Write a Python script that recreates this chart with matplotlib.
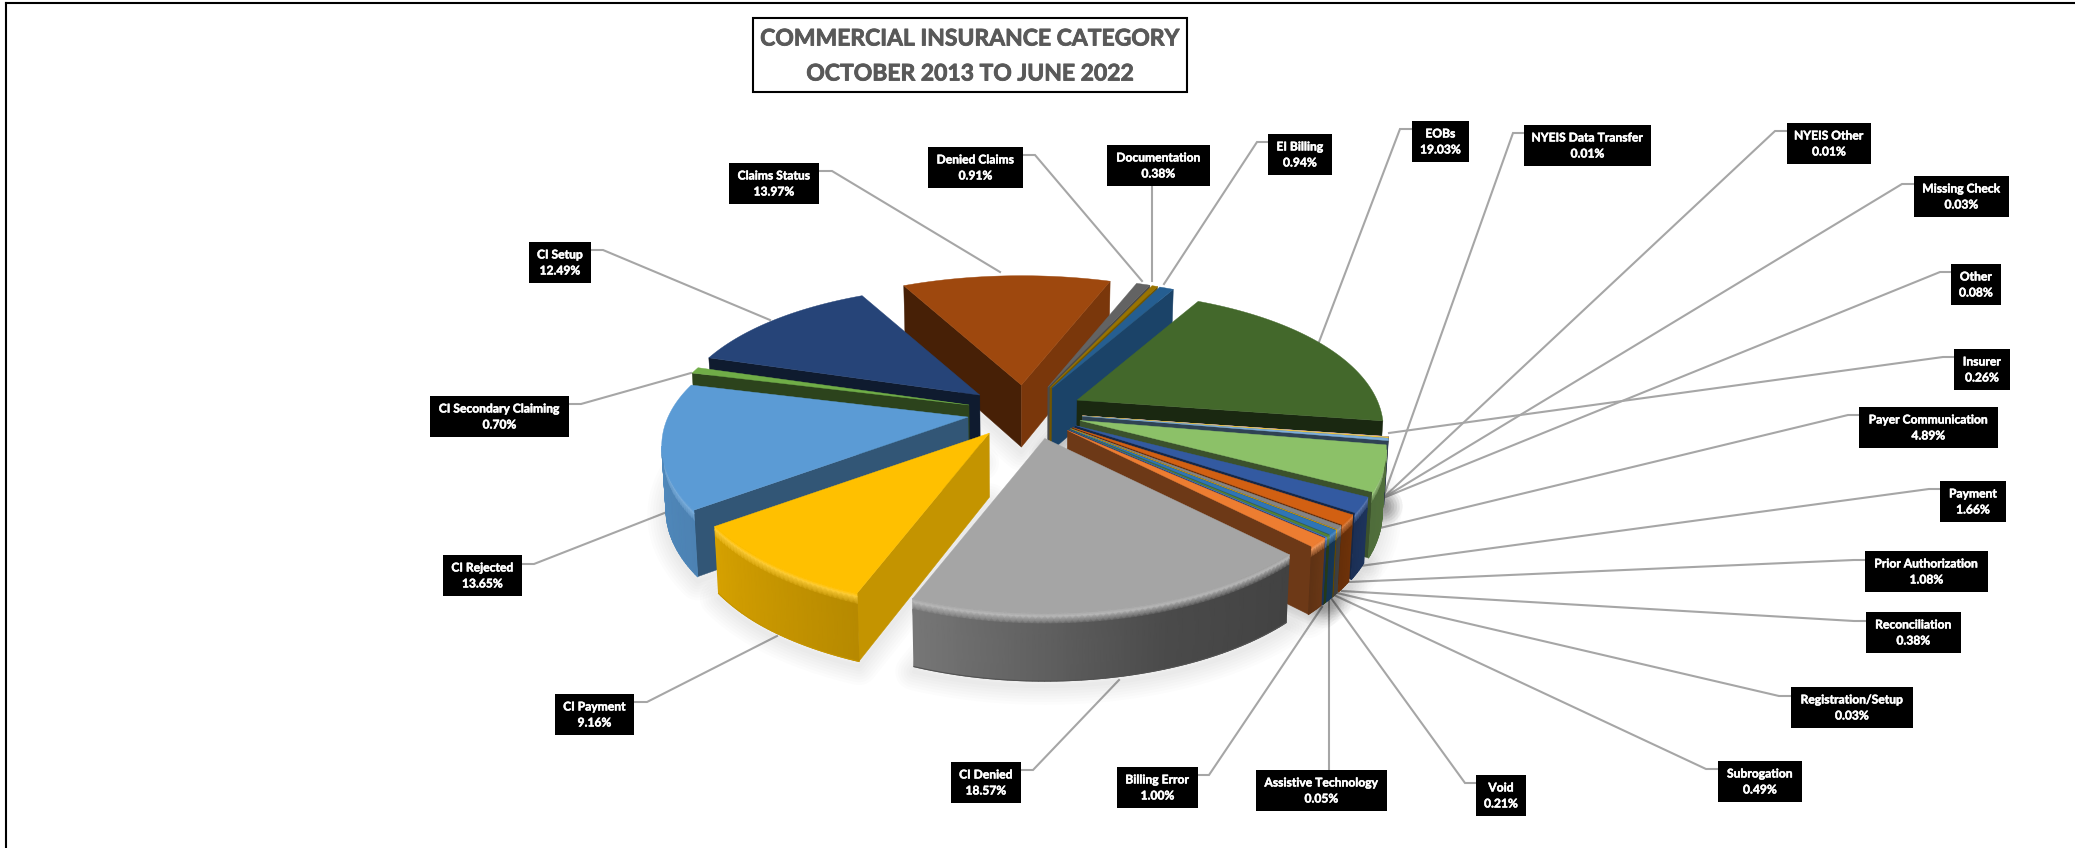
import numpy as np
import matplotlib
matplotlib.use("Agg")
import matplotlib.pyplot as plt
import matplotlib.patheffects as pe
from matplotlib.colors import to_rgb
from matplotlib.patches import Polygon, Rectangle

categories = ["Assistive Technology", "Billing Error", "CI Denied", "CI Payment", "CI Rejected",
              "CI Secondary Claiming", "CI Setup", "Claims Status", "Denied Claims", "Documentation",
              "EI Billing", "EOBs", "NYEIS Data Transfer", "NYEIS Other", "Missing Check", "Other",
              "Insurer", "Payer Communication", "Payment", "Prior Authorization", "Reconciliation",
              "Registration/Setup", "Subrogation", "Void"]
shares = [0.05, 1.00, 18.57, 9.16, 13.65, 0.70, 12.49, 13.97, 0.91, 0.38, 0.94, 19.03,
          0.01, 0.01, 0.03, 0.08, 0.26, 4.89, 1.66, 1.08, 0.38, 0.03, 0.49, 0.21]
colors = ["#4472C4", "#ED7D31", "#A5A5A5", "#FFC000", "#5B9BD5", "#70AD47", "#264478", "#9E480E",
          "#636363", "#997300", "#255E91", "#43682B", "#698ED0", "#F1975A", "#B7B7B7", "#FFCD33",
          "#7CAFDD", "#8CC168", "#335AA1", "#D26012", "#848484", "#CC9A00", "#2E75B6", "#548235"]

# label box (x0, y0, x1, y1) and leader path, in figure pixels
label_boxes = {
    "Assistive Technology": (1256, 770, 1387, 811), "Billing Error": (1117, 767, 1198, 808),
    "CI Denied": (951, 762, 1021, 803), "CI Payment": (555, 694, 634, 735),
    "CI Rejected": (443, 555, 522, 596), "CI Secondary Claiming": (430, 396, 569, 437),
    "CI Setup": (529, 242, 591, 283), "Claims Status": (729, 163, 819, 204),
    "Denied Claims": (928, 147, 1023, 188), "Documentation": (1107, 145, 1210, 186),
    "EI Billing": (1268, 134, 1332, 175), "EOBs": (1412, 121, 1469, 162),
    "NYEIS Data Transfer": (1524, 125, 1651, 166), "NYEIS Other": (1787, 123, 1871, 164),
    "Missing Check": (1914, 176, 2009, 217), "Other": (1951, 264, 2001, 305),
    "Insurer": (1954, 349, 2010, 390), "Payer Communication": (1859, 407, 1998, 448),
    "Payment": (1940, 481, 2006, 522), "Prior Authorization": (1865, 551, 1988, 592),
    "Reconciliation": (1866, 612, 1961, 653), "Registration/Setup": (1791, 687, 1913, 728),
    "Subrogation": (1718, 761, 1802, 802), "Void": (1476, 775, 1526, 816),
}
leaders = {
    "Assistive Technology": [(1329, 770), (1329, 600)],
    "Billing Error": [(1198, 775), (1209, 775), (1322, 607)],
    "CI Denied": [(1021, 770), (1033, 770), (1119, 680)],
    "CI Payment": [(634, 702), (647, 702), (777, 636)],
    "CI Rejected": [(522, 564), (534, 564), (667, 512)],
    "CI Secondary Claiming": [(569, 404), (581, 404), (691, 373)],
    "CI Setup": [(591, 250), (603, 250), (770, 320)],
    "Claims Status": [(819, 171), (832, 171), (1000, 272)],
    "Denied Claims": [(1023, 155), (1035, 155), (1142, 281)],
    "Documentation": [(1152, 186), (1152, 281)],
    "EI Billing": [(1268, 142), (1257, 142), (1164, 284)],
    "EOBs": [(1412, 129), (1400, 129), (1319, 342)],
    "NYEIS Data Transfer": [(1524, 133), (1513, 133), (1383, 498)],
    "NYEIS Other": [(1787, 131), (1775, 131), (1383, 498)],
    "Missing Check": [(1914, 184), (1902, 184), (1383, 498)],
    "Other": [(1951, 272), (1940, 272), (1383, 498)],
    "Insurer": [(1954, 357), (1943, 357), (1389, 433)],
    "Payer Communication": [(1859, 415), (1848, 415), (1380, 528)],
    "Payment": [(1940, 489), (1929, 489), (1360, 566)],
    "Prior Authorization": [(1865, 560), (1854, 560), (1349, 582)],
    "Reconciliation": [(1866, 621), (1854, 621), (1342, 591)],
    "Registration/Setup": [(1791, 696), (1779, 696), (1337, 593)],
    "Subrogation": [(1718, 769), (1706, 769), (1334, 595)],
    "Void": [(1476, 783), (1465, 783), (1331, 598)],
}
title_lines = ["COMMERCIAL INSURANCE CATEGORY", "OCTOBER 2013 TO JUNE 2022"]

# pie projection parameters
CX, CY = 1025.0, 412.0
EXPLODE_X, EXPLODE_Y = 58.0, 27.0
RX, RY = 300.0, 142.0
PERSP_X, PERSP_Y = 0.21, 0.23
START_DEG = 41.0
BEVEL = 11.0
EXTRA_SHIFT_X = {"CI Denied": 8.0}   # the largest front slice sits a little further right

plt.rcParams["font.family"] = ["Lato", "DejaVu Sans"]
W, H = 2075, 848
fig = plt.figure(figsize=(W / 100, H / 100), dpi=100, facecolor="white")
ax = fig.add_axes([0, 0, 1, 1])
ax.set_xlim(0, W)
ax.set_ylim(H, 0)
ax.axis("off")

shift_by_mid = {}


def apex_point(mid):
    return (CX + EXPLODE_X * np.cos(np.radians(mid)) + shift_by_mid.get(mid, 0.0),
            CY + EXPLODE_Y * np.sin(np.radians(mid)))


def rim_point(theta, mid):
    """Top-surface rim position at angle theta for a slice exploded along mid."""
    x, y = np.cos(np.radians(theta)), np.sin(np.radians(theta))
    ax0, ay0 = apex_point(mid)
    return ax0 + RX * x * (1 + PERSP_X * y), ay0 + RY * y * (1 + PERSP_Y * y)


def drop(px, py, amount=None):
    """Shift a top-surface point down the slice wall."""
    y_norm = (py - CY) / RY
    depth = 63.0 + 5.0 * np.clip(y_norm, -1, 1)
    d = depth if amount is None else min(amount, depth)
    return px - 0.012 * (px - CX) * d / depth, py + d


def wall_factor(theta):
    t = theta % 360
    return np.interp(t, [0, 30, 45, 70, 110, 145, 195, 360],
                     [0.60, 0.56, 0.40, 0.45, 0.71, 0.84, 0.93, 0.60])


def face_factor(normal):
    n = normal % 360
    return np.interp(n, [0, 20, 55, 100, 135, 151, 180, 360],
                     [0.8, 0.78, 0.55, 0.38, 0.46, 0.45, 0.45, 0.8])


total = sum(shares)
edges = START_DEG + np.concatenate([[0], np.cumsum(shares)]) * 360.0 / total
slices = []
for i, (name, col) in enumerate(zip(categories, colors)):
    mid = (edges[i] + edges[i + 1]) / 2
    shift_by_mid[mid] = EXTRA_SHIFT_X.get(name, 0.0)
    slices.append(dict(name=name, color=to_rgb(col), t1=edges[i], t2=edges[i + 1], mid=mid))

# leader lines sit beneath everything else
for name, pts in leaders.items():
    xs, ys = zip(*pts)
    ax.plot(xs, ys, color="#A6A6A6", lw=1.5, solid_joinstyle="miter", zorder=1)

# back-to-front painting order
order = sorted(slices, key=lambda s: np.sin(np.radians(s["mid"])))

# soft ground shadow under the slices
for s in order:
    th = np.linspace(s["t1"], s["t2"], max(3, int(s["t2"] - s["t1"]) + 2))
    rim = [drop(*rim_point(t, s["mid"])) for t in th]
    ap = apex_point(s["mid"])
    poly = [drop(*ap)] + rim
    poly = [(x, y + 5) for x, y in poly]
    for w in range(3, 30, 4):
        ax.add_patch(Polygon(poly, closed=True, facecolor="none", edgecolor=(0, 0, 0, 0.011),
                             lw=w, joinstyle="round", zorder=2))

for rank, s in enumerate(order):
    z = 10 + rank
    top = np.array(s["color"])
    t1, t2, mid = s["t1"], s["t2"], s["mid"]
    ap = apex_point(mid)
    r1, r2 = rim_point(t1, mid), rim_point(t2, mid)

    # radial cut faces, only where they face the viewer
    if r1[0] < ap[0]:
        c = tuple(top * face_factor(t1 - 90))
        ax.add_patch(Polygon([ap, r1, drop(*r1), drop(*ap)], closed=True,
                             facecolor=c, edgecolor=c, lw=0.3, zorder=z))
    if ap[0] < r2[0]:
        c = tuple(top * face_factor(t2 + 90))
        ax.add_patch(Polygon([ap, r2, drop(*r2), drop(*ap)], closed=True,
                             facecolor=c, edgecolor=c, lw=0.3, zorder=z))

    # outer wall as a smooth mesh with a bevelled top edge
    th = np.linspace(t1, t2, max(3, int(t2 - t1) + 3))
    keep = [t for t in th if rim_point(t + 0.01, mid)[0] < rim_point(t, mid)[0]]
    if len(keep) >= 2:
        levels = [0.0, 0.3 * BEVEL, BEVEL, None]
        highlight = top + (1 - top) * 0.22
        mx = np.zeros((len(levels), len(keep)))
        my = np.zeros_like(mx)
        rgb = np.zeros(mx.shape + (3,))
        for j, t in enumerate(keep):
            p = rim_point(t, mid)
            wall = top * wall_factor(t)
            shades = [top, highlight, wall, wall]
            for k, d in enumerate(levels):
                mx[k, j], my[k, j] = drop(*p, d)
                rgb[k, j] = shades[k]
        ax.pcolormesh(mx, my, rgb, shading="gouraud", zorder=z, rasterized=True)
        # antialiased lower edge of the wall
        ax.plot(mx[-1], my[-1], color=tuple(rgb[-1, len(keep) // 2]), lw=0.8, zorder=z)

    # top surface
    th = np.linspace(t1, t2, max(2, int(t2 - t1) + 2))
    outline = [ap] + [rim_point(t, mid) for t in th]
    c = tuple(top)
    ax.add_patch(Polygon(outline, closed=True, facecolor=c, edgecolor=c, lw=0.3, zorder=z))

# value labels in black boxes
label_fx = [pe.withStroke(linewidth=0.35, foreground="white")]
for name, value in zip(categories, shares):
    x0, y0, x1, y1 = label_boxes[name]
    ax.add_patch(Rectangle((x0, y0), x1 - x0, y1 - y0, facecolor="black", edgecolor="none", zorder=60))
    cx = (x0 + x1) / 2
    ax.text(cx, y0 + 13, name, color="white", fontsize=8.7, fontweight="bold",
            ha="center", va="center", zorder=61, path_effects=label_fx)
    ax.text(cx, y0 + 29, f"{value:.2f}%", color="white", fontsize=8.7, fontweight="bold",
            ha="center", va="center", zorder=61, path_effects=label_fx)

# title box
title_fx = [pe.withStroke(linewidth=0.6, foreground="#595959")]
ax.add_patch(Rectangle((753, 18), 434, 74, facecolor="white", edgecolor="black", lw=1.5, zorder=60))
ax.text(970, 39, title_lines[0], color="#595959", fontsize=16.5, fontweight="bold",
        ha="center", va="center", zorder=61, path_effects=title_fx)
ax.text(970, 74, title_lines[1], color="#595959", fontsize=16.5, fontweight="bold",
        ha="center", va="center", zorder=61, path_effects=title_fx)

# outer chart frame
ax.plot([6, 6], [H, 3], color="black", lw=1.5, zorder=70)
ax.plot([6, W], [3, 3], color="black", lw=1.5, zorder=70)

fig.savefig("out.png", dpi=100, facecolor="white")
